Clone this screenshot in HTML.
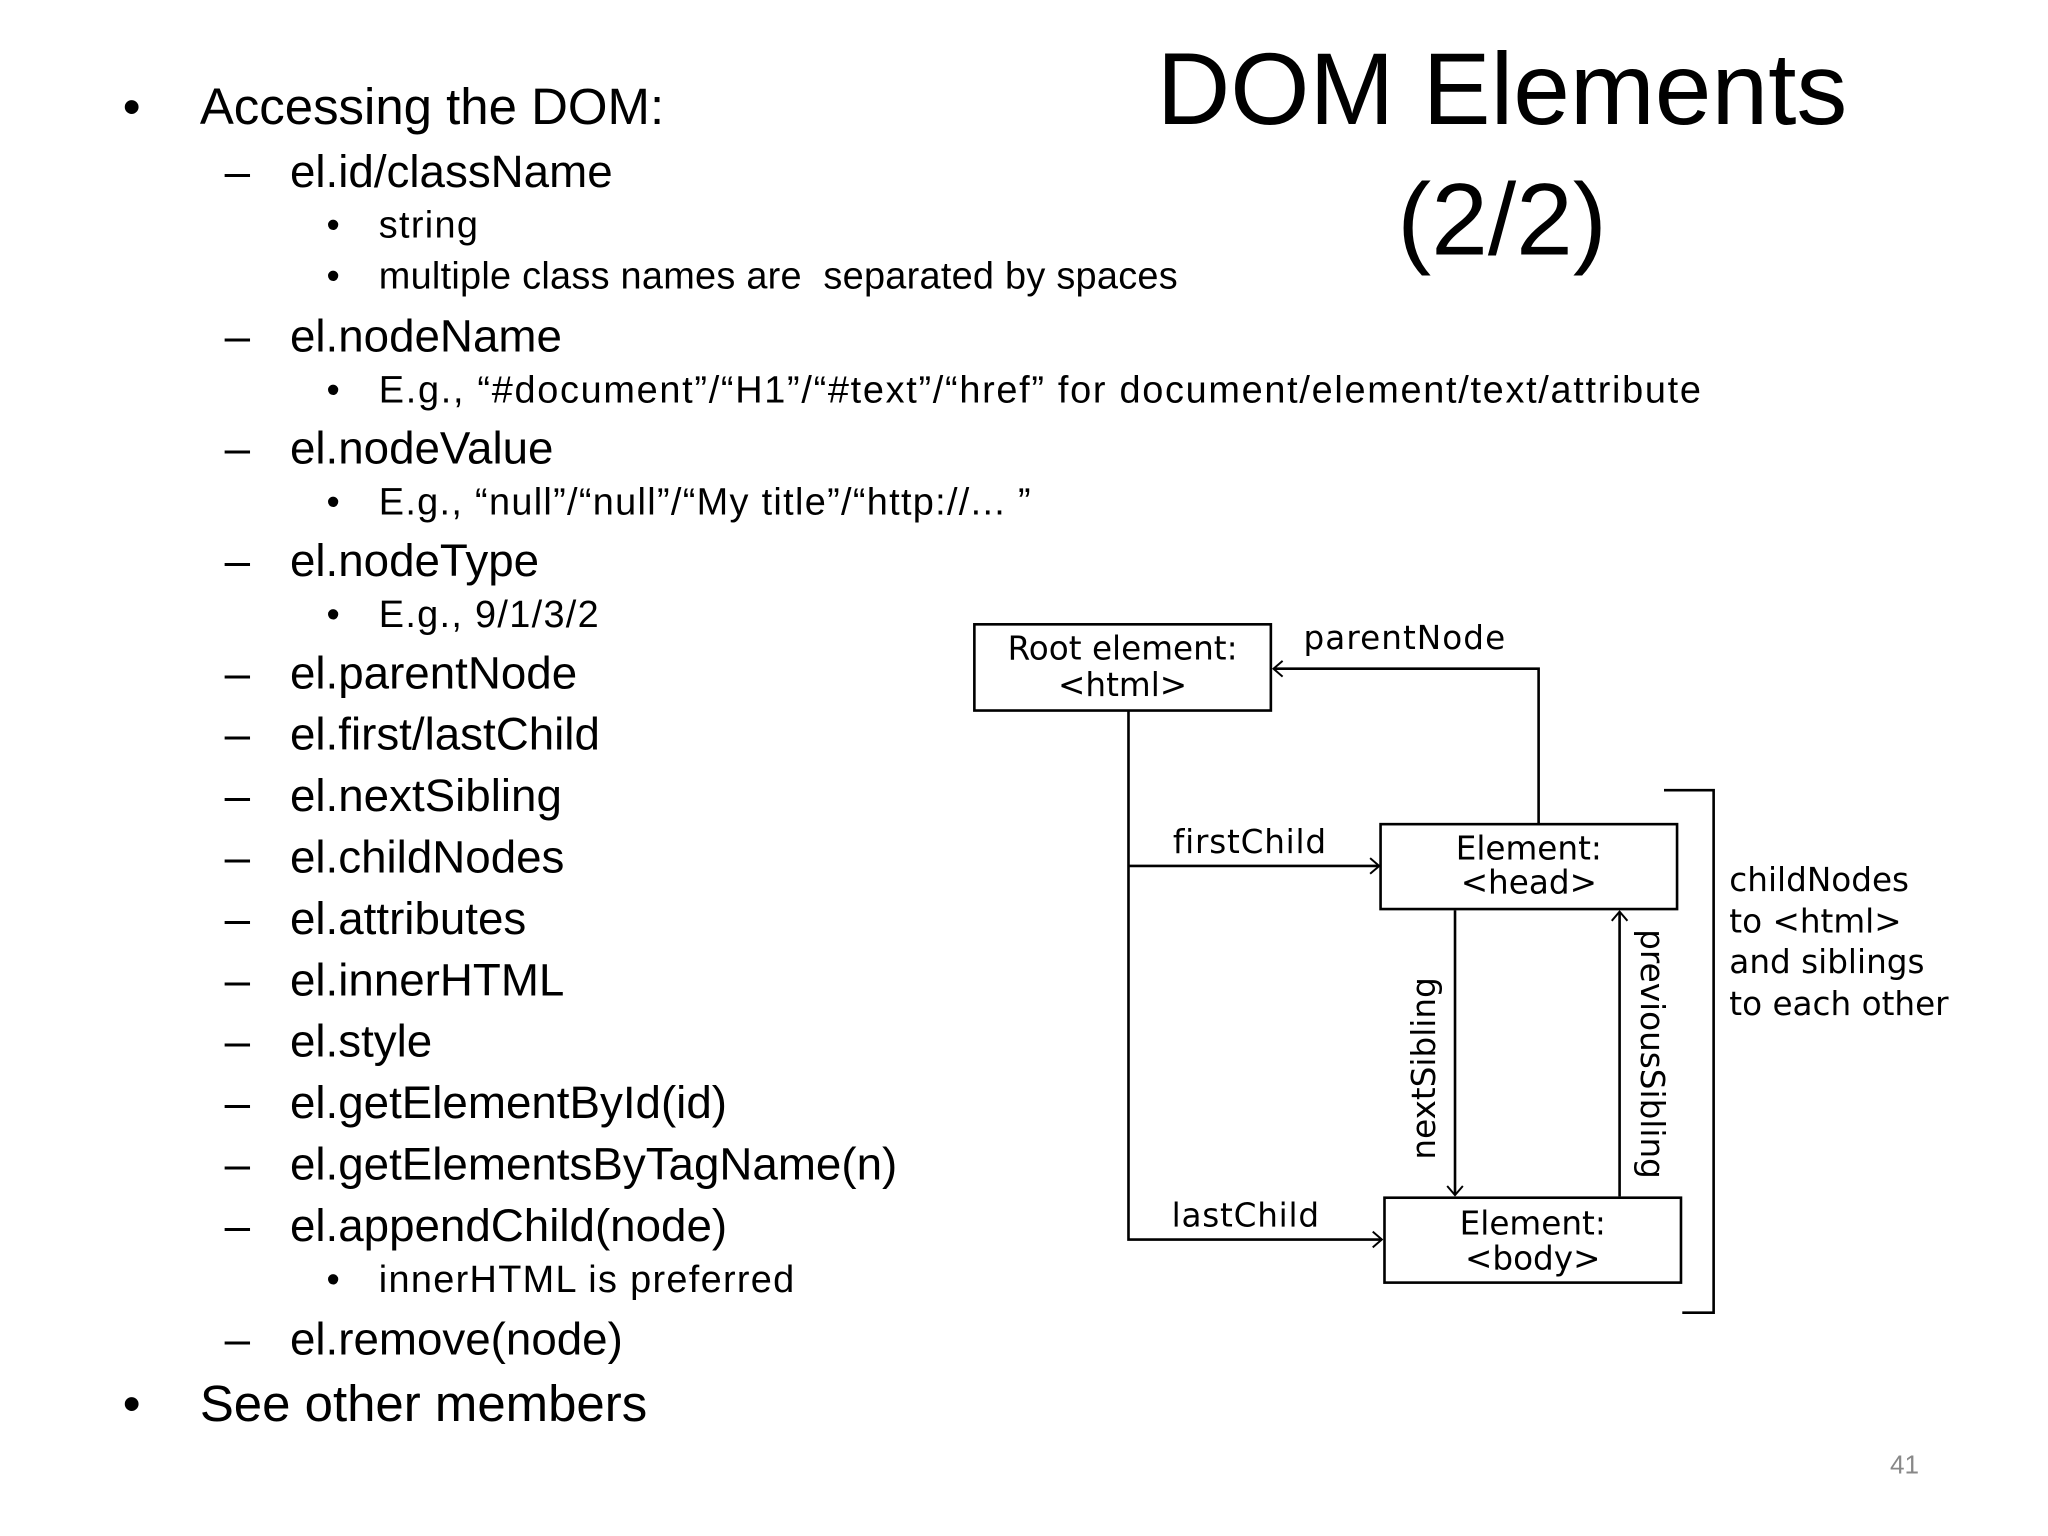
<!DOCTYPE html>
<html><head><meta charset="utf-8"><style>
html,body{margin:0;padding:0;background:#fff;}
#wrap{position:absolute;left:0;top:0;width:1568px;height:1176px;transform:scale(1.30612);transform-origin:0 0;font-family:"Liberation Sans",sans-serif;color:#000;overflow:hidden;}
.t{position:absolute;white-space:nowrap;line-height:1;}
.l1{font-size:39px;}
.l2{font-size:35px;}
.l3{font-size:29px;letter-spacing:1px;}
.d{font-family:"DejaVu Sans",sans-serif;font-size:25px;position:absolute;white-space:nowrap;line-height:1;}
</style></head><body><div id="wrap">
<div class="t" style="left:855px;top:18px;font-size:78px;width:590px;text-align:center;line-height:100px;">DOM Elements<br>(2/2)</div>

<div class="t l1" style="left:94px;top:63px">•</div><div class="t l1" style="left:153px;top:63px">Accessing the DOM:</div>
<div class="t l2" style="left:172px;top:114px">–</div><div class="t l2" style="left:222px;top:114px">el.id/className</div>
<div class="t l3" style="left:250px;top:159px">•</div><div class="t l3" style="left:290px;top:159px">string</div>
<div class="t l3" style="left:250px;top:198px">•</div><div class="t l3" style="left:290px;top:198px;letter-spacing:0.2px">multiple class names are&nbsp; separated by spaces</div>
<div class="t l2" style="left:172px;top:240px">–</div><div class="t l2" style="left:222px;top:240px">el.nodeName</div>
<div class="t l3" style="left:250px;top:285px">•</div><div class="t l3" style="left:290px;top:285px;letter-spacing:1.3px">E.g., “#document”/“H1”/“#text”/“href” for document/element/text/attribute</div>
<div class="t l2" style="left:172px;top:326px">–</div><div class="t l2" style="left:222px;top:326px">el.nodeValue</div>
<div class="t l3" style="left:250px;top:371px">•</div><div class="t l3" style="left:290px;top:371px">E.g., “null”/“null”/“My title”/“http://... ”</div>
<div class="t l2" style="left:172px;top:412px">–</div><div class="t l2" style="left:222px;top:412px">el.nodeType</div>
<div class="t l3" style="left:250px;top:457px">•</div><div class="t l3" style="left:290px;top:457px">E.g., 9/1/3/2</div>
<div class="t l2" style="left:172px;top:498px">–</div><div class="t l2" style="left:222px;top:498px">el.parentNode</div>
<div class="t l2" style="left:172px;top:545px">–</div><div class="t l2" style="left:222px;top:545px">el.first/lastChild</div>
<div class="t l2" style="left:172px;top:592px">–</div><div class="t l2" style="left:222px;top:592px">el.nextSibling</div>
<div class="t l2" style="left:172px;top:639px">–</div><div class="t l2" style="left:222px;top:639px">el.childNodes</div>
<div class="t l2" style="left:172px;top:686px">–</div><div class="t l2" style="left:222px;top:686px">el.attributes</div>
<div class="t l2" style="left:172px;top:733px">–</div><div class="t l2" style="left:222px;top:733px">el.innerHTML</div>
<div class="t l2" style="left:172px;top:780px">–</div><div class="t l2" style="left:222px;top:780px">el.style</div>
<div class="t l2" style="left:172px;top:827px">–</div><div class="t l2" style="left:222px;top:827px">el.getElementById(id)</div>
<div class="t l2" style="left:172px;top:874px">–</div><div class="t l2" style="left:222px;top:874px">el.getElementsByTagName(n)</div>
<div class="t l2" style="left:172px;top:921px">–</div><div class="t l2" style="left:222px;top:921px">el.appendChild(node)</div>
<div class="t l3" style="left:250px;top:966px">•</div><div class="t l3" style="left:290px;top:966px">innerHTML is preferred</div>
<div class="t l2" style="left:172px;top:1008px">–</div><div class="t l2" style="left:222px;top:1008px">el.remove(node)</div>
<div class="t l1" style="left:94px;top:1056px">•</div><div class="t l1" style="left:153px;top:1056px">See other members</div>
<div class="t" style="left:1447px;top:1112px;font-size:20px;color:#888">41</div>

<svg style="position:absolute;left:0;top:0" width="1568" height="1176">
<g fill="none" stroke="#000" stroke-width="2">
<rect x="746" y="478" width="227" height="66"/>
<rect x="1057" y="631" width="227" height="65"/>
<rect x="1060" y="917" width="227" height="65"/>
<polyline points="864,544 864,949 1058,949"/>
<line x1="864" y1="663" x2="1056" y2="663"/>
<polyline points="1178,631 1178,512 975,512"/>
<line x1="1114" y1="697" x2="1114" y2="915"/>
<line x1="1240" y1="916" x2="1240" y2="698"/>
<polyline points="1274,605 1312,605 1312,1005 1288,1005"/>
<polyline points="1049,657 1056,663 1049,669" stroke-width="1.5"/>
<polyline points="1051,943 1058,949 1051,955" stroke-width="1.5"/>
<polyline points="982,506 975,512 982,518" stroke-width="1.5"/>
<polyline points="1108,908 1114,915 1120,908" stroke-width="1.5"/>
<polyline points="1234,705 1240,698 1246,705" stroke-width="1.5"/>
</g>
</svg>
<div class="d" style="left:746px;top:483px;width:227px;text-align:center;line-height:28px">Root element:<br>&lt;html&gt;</div>
<div class="d" style="left:1057px;top:637px;width:227px;text-align:center;line-height:26px">Element:<br>&lt;head&gt;</div>
<div class="d" style="left:1060px;top:923px;width:227px;text-align:center;line-height:27px">Element:<br>&lt;body&gt;</div>
<div class="d" style="left:998px;top:476px;letter-spacing:0.8px">parentNode</div>
<div class="d" style="left:898px;top:632px;letter-spacing:0.6px">firstChild</div>
<div class="d" style="left:897px;top:918px;letter-spacing:0.6px">lastChild</div>
<div class="d" style="left:1324px;top:658px;line-height:31.5px">childNodes<br>to &lt;html&gt;<br>and siblings<br>to each other</div>
<div class="d" style="left:1090px;top:818px;transform:translate(-50%,-50%) rotate(-90deg)">nextSibling</div>
<div class="d" style="left:1265px;top:807px;transform:translate(-50%,-50%) rotate(90deg)">previousSibling</div>
</div></body></html>
